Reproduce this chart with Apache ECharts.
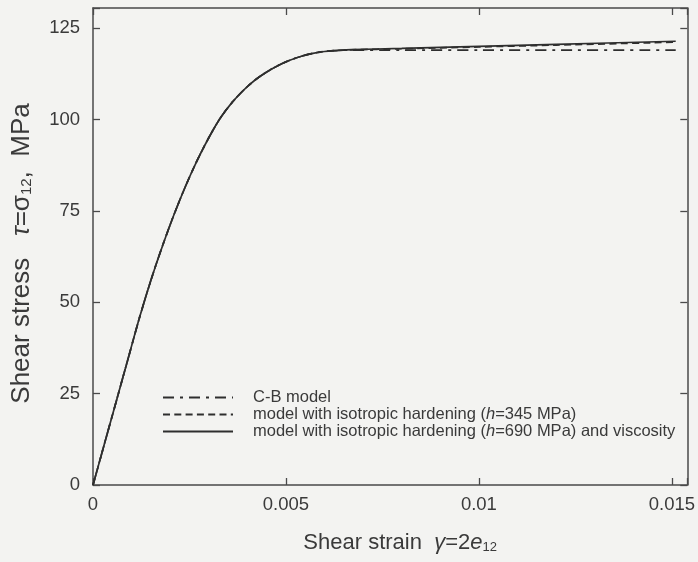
<!DOCTYPE html>
<html>
<head>
<meta charset="utf-8">
<script src="https://cdn.jsdelivr.net/npm/echarts@6/dist/echarts.min.js"></script>
<style>
html,body{margin:0;padding:0;background:#f3f3f1;}
#chart{width:698px;height:562px;}
</style>
</head>
<body>
<div id="chart"></div>
<script>
// ---- data ----
const xTickValues = [0, 0.005, 0.01, 0.015];
const xTickLabels = ['0', '0.005', '0.01', '0.015'];
const yTickValues = [0, 25, 50, 75, 100, 125];
const yTickLabels = ['0', '25', '50', '75', '100', '125'];

// common elastic / transition part shared by all three models
const strainRise = [0, 0.0003, 0.0006, 0.0009, 0.0012, 0.0015, 0.0018, 0.0021, 0.0024, 0.0027, 0.0030, 0.0033, 0.0036, 0.0039, 0.0042, 0.0045, 0.0048, 0.0051, 0.0054, 0.0057, 0.0060, 0.0063];
const stressRise = [0, 11.4, 22.8, 34.2, 45.6, 56.0, 65.4, 74.0, 81.8, 88.8, 95.0, 100.4, 104.6, 108.0, 110.8, 113.0, 114.8, 116.2, 117.3, 118.1, 118.6, 118.85];

// plateau part
const strainTail = [0.0067, 0.008, 0.010, 0.012, 0.0151];
const stressCB   = [119.0, 119.0, 119.0, 119.0, 119.0];
const stressH345 = [119.05, 119.35, 119.85, 120.35, 121.15];
const stressH690 = [119.1, 119.45, 120.0, 120.55, 121.4];

const seriesNames = ['C-B model', 'model with isotropic hardening (h=345 MPa)', 'model with isotropic hardening (h=690 MPa) and viscosity'];

function build(tail) {
  const d = [];
  for (let i = 0; i < strainRise.length; i++) d.push([strainRise[i], stressRise[i]]);
  for (let i = 0; i < strainTail.length; i++) d.push([strainTail[i], tail[i]]);
  return d;
}

const INK = '#3a3a3a';
const FONT = 'Liberation Sans, Arial, sans-serif';
const chart = echarts.init(document.getElementById('chart'), null, {renderer: 'canvas'});

function fmt(values, labels) {
  return function (v) {
    for (let i = 0; i < values.length; i++) if (Math.abs(v - values[i]) < 1e-9) return labels[i];
    return '';
  };
}

const axisLine = {show: true, onZero: false, lineStyle: {color: '#4a4a4a', width: 1.5}};
const axisTick = {show: true, inside: true, length: 7, lineStyle: {color: '#4a4a4a', width: 1.3}};

const option = {
  backgroundColor: '#f3f3f1',
  animation: false,
  textStyle: {fontFamily: FONT},
  grid: {left: 93, right: 5, top: 8, bottom: 77, containLabel: false},
  legend: {
    orient: 'vertical',
    left: 157,
    top: 384,
    itemWidth: 70,
    itemHeight: 17,
    itemGap: 0,
    selectedMode: false,
    itemStyle: {opacity: 0},
    textStyle: {
      fontSize: 16.5, color: INK, padding: [0, 0, 0, 15], lineHeight: 17,
      rich: {
        n: {fontSize: 16.5, lineHeight: 17, color: INK, fontFamily: FONT},
        i: {fontSize: 16.5, lineHeight: 17, color: INK, fontStyle: 'italic', fontFamily: FONT}
      }
    },
    formatter: function (name) {
      const m = name.match(/^(.*\()h(=.*)$/);
      if (m) return '{n|' + m[1] + '}{i|h}{n|' + m[2] + '}';
      return '{n|' + name + '}';
    },
    data: seriesNames
  },
  xAxis: [{
    type: 'value', min: 0, max: 0.0154, interval: 0.005, position: 'bottom',
    axisLine: axisLine, axisTick: axisTick, splitLine: {show: false},
    axisLabel: {fontSize: 18.5, color: INK, margin: 10, formatter: fmt(xTickValues, xTickLabels)},
    name: 'Shear strain  {g|γ}=2{i|e}{s|12}',
    nameLocation: 'middle', nameGap: 47,
    nameTextStyle: {
      fontSize: 22, color: INK, padding: [0, 0, 0, 20],
      rich: {
        g: {fontSize: 22, color: INK, fontStyle: 'italic'},
        i: {fontSize: 22, color: INK, fontStyle: 'italic'},
        s: {fontSize: 13, color: INK, padding: [8, 0, 0, 0]}
      }
    }
  }, {
    type: 'value', min: 0, max: 0.0154, interval: 0.005, position: 'top',
    axisLine: axisLine, axisTick: axisTick, splitLine: {show: false},
    axisLabel: {show: false}
  }],
  yAxis: [{
    type: 'value', min: 0, max: 130.5, interval: 25, position: 'left',
    axisLine: axisLine, axisTick: axisTick, splitLine: {show: false},
    axisLabel: {fontSize: 18.5, color: INK, margin: 13, formatter: fmt(yTickValues, yTickLabels)},
    name: 'Shear stress   {i|τ}=σ{s|12},  MPa',
    nameLocation: 'middle', nameGap: 58, nameRotate: 90,
    nameTextStyle: {
      fontSize: 26, color: INK, padding: [0, 14, 0, 0],
      rich: {
        i: {fontSize: 26, color: INK, fontStyle: 'italic'},
        s: {fontSize: 15, color: INK, padding: [10, 0, 0, 0]}
      }
    }
  }, {
    type: 'value', min: 0, max: 130.5, interval: 25, position: 'right',
    axisLine: axisLine, axisTick: axisTick, splitLine: {show: false},
    axisLabel: {show: false}
  }],
  series: [{
    name: seriesNames[0], type: 'line', xAxisIndex: 0, yAxisIndex: 0,
    symbol: 'none', smooth: 0.3,
    lineStyle: {color: '#2e2e2e', width: 1.7, type: [11, 6, 3, 6]},
    itemStyle: {color: '#2e2e2e'},
    data: build(stressCB)
  }, {
    name: seriesNames[1], type: 'line', xAxisIndex: 0, yAxisIndex: 0,
    symbol: 'none', smooth: 0.3,
    lineStyle: {color: '#2e2e2e', width: 1.7, type: [7, 4.3]},
    itemStyle: {color: '#2e2e2e'},
    data: build(stressH345)
  }, {
    name: seriesNames[2], type: 'line', xAxisIndex: 0, yAxisIndex: 0,
    symbol: 'none', smooth: 0.3,
    lineStyle: {color: '#2e2e2e', width: 1.7, type: 'solid'},
    itemStyle: {color: '#2e2e2e'},
    data: build(stressH690)
  }]
};
chart.setOption(option);
</script>
</body>
</html>
